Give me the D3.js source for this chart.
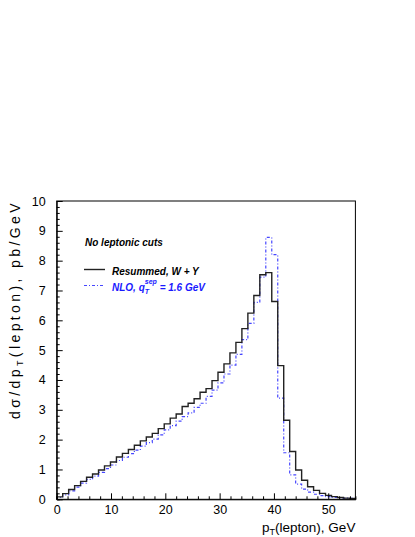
<!DOCTYPE html>
<html>
<head>
<meta charset="utf-8">
<script src="https://cdn.jsdelivr.net/npm/d3@7"></script>
<style>
  body { margin: 0; background: #fff; }
  text { font-family: "Liberation Sans", Arial, sans-serif; }
</style>
</head>
<body>
<div id="chart"></div>
<script>
// bin edges in GeV (50 bins of 1.1 GeV)
const binEdges = [0, 1.1, 2.2, 3.3, 4.4, 5.5, 6.6, 7.7, 8.8, 9.9,
  11, 12.1, 13.2, 14.3, 15.4, 16.5, 17.6, 18.7, 19.8, 20.9,
  22, 23.1, 24.2, 25.3, 26.4, 27.5, 28.6, 29.7, 30.8, 31.9,
  33, 34.1, 35.2, 36.3, 37.4, 38.5, 39.6, 40.7, 41.8, 42.9,
  44, 45.1, 46.2, 47.3, 48.4, 49.5, 50.6, 51.7, 52.8, 53.9, 55];

// Resummed, W + Y
const resummed = [0.08, 0.19, 0.33, 0.46, 0.60, 0.74, 0.85, 0.98, 1.12, 1.25,
  1.42, 1.54, 1.67, 1.81, 1.96, 2.09, 2.21, 2.37, 2.53, 2.72,
  2.86, 3.11, 3.22, 3.37, 3.59, 3.71, 3.98, 4.26, 4.54, 4.91,
  5.26, 5.72, 6.24, 6.83, 7.53, 7.60, 6.63, 4.48, 2.65, 1.60,
  0.98, 0.64, 0.42, 0.30, 0.20, 0.13, 0.09, 0.06, 0.04, 0.03];

// NLO, qT sep = 1.6 GeV
const nlo = [0.06, 0.15, 0.28, 0.41, 0.54, 0.67, 0.78, 0.90, 1.03, 1.15,
  1.30, 1.41, 1.53, 1.65, 1.78, 1.90, 2.02, 2.16, 2.33, 2.47,
  2.62, 2.77, 2.90, 3.08, 3.22, 3.45, 3.66, 3.90, 4.20, 4.50,
  4.86, 5.35, 5.90, 6.60, 7.45, 8.78, 8.20, 3.39, 1.56, 0.82,
  0.51, 0.34, 0.24, 0.17, 0.12, 0.09, 0.06, 0.05, 0.04, 0.03];

const xMajor = [0, 10, 20, 30, 40, 50];
const yMajor = [0, 1, 2, 3, 4, 5, 6, 7, 8, 9, 10];

const W = 415, H = 537;
const svg = d3.select("#chart").append("svg")
    .attr("width", W).attr("height", H);

const x = d3.scaleLinear().domain([0, 55]).range([56.7, 355.4]);
const y = d3.scaleLinear().domain([0, 10]).range([499.3, 201]);

// histogram outline as steps
const steps = vals => {
  const pts = [[0, 0]];
  vals.forEach((v, i) => { pts.push([binEdges[i], v], [binEdges[i + 1], v]); });
  pts.push([55, 0]);
  return pts;
};
const line = d3.line().x(d => x(d[0])).y(d => y(d[1]));

svg.append("path")
    .attr("d", line(steps(nlo)))
    .attr("fill", "none")
    .attr("stroke", "#4646ff")
    .attr("stroke-width", 1.2)
    .attr("stroke-dasharray", "3,2,1,2");

svg.append("path")
    .attr("d", line(steps(resummed)))
    .attr("fill", "none")
    .attr("stroke", "#222")
    .attr("stroke-width", 1.4);

// axes, ticks inside
const xAxis = svg.append("g")
    .attr("transform", `translate(0,${y(0)})`)
    .call(d3.axisTop(x).tickValues(d3.range(0, 56, 2)).tickSize(3).tickFormat(""));
xAxis.selectAll(".tick line").filter(d => d % 10 === 0).attr("y2", -6);
svg.append("g")
    .attr("transform", `translate(0,${y(0)})`)
    .call(d3.axisBottom(x).tickValues(xMajor).tickSize(0).tickPadding(6))
    .call(g => g.select(".domain").remove())
    .selectAll("text").attr("font-size", 12.5).attr("font-family", "Liberation Sans, Arial, sans-serif").attr("fill", "#000");

const yAxis = svg.append("g")
    .attr("transform", `translate(${x(0)},0)`)
    .call(d3.axisRight(y).tickValues(d3.range(0, 10.01, 0.2)).tickSize(3).tickFormat(""));
yAxis.selectAll(".tick line").filter(d => Math.abs(d - Math.round(d)) < 1e-6).attr("x2", 6);
svg.append("g")
    .attr("transform", `translate(${x(0)},0)`)
    .call(d3.axisLeft(y).tickValues(yMajor).tickSize(0).tickPadding(11))
    .call(g => g.select(".domain").remove())
    .selectAll("text").attr("font-size", 12.5).attr("font-family", "Liberation Sans, Arial, sans-serif").attr("fill", "#000");

// frame
svg.append("rect")
    .attr("x", x(0)).attr("y", y(10))
    .attr("width", x(55) - x(0)).attr("height", y(0) - y(10))
    .attr("fill", "none").attr("stroke", "#000").attr("stroke-width", 1);

// axis titles
const xt = svg.append("text")
    .attr("x", x(55)).attr("y", 532)
    .attr("text-anchor", "end").attr("font-size", 13.5);
xt.append("tspan").text("p");
xt.append("tspan").attr("font-size", 9).attr("dy", 3).text("T");
xt.append("tspan").attr("dy", -3).text("(lepton), GeV");

const yt = svg.append("text")
    .attr("transform", `translate(20,${y(10) - 1}) rotate(-90)`)
    .attr("text-anchor", "end").attr("font-size", 14)
    .attr("letter-spacing", 3.4);
yt.append("tspan").text("dσ/dp");
yt.append("tspan").attr("font-size", 9).attr("dy", 3).text("T");
yt.append("tspan").attr("dy", -3).text("(lepton), pb/GeV");

// legend
svg.append("text")
    .attr("x", 85).attr("y", 246)
    .attr("font-size", 10).attr("font-weight", "bold").attr("font-style", "italic")
    .text("No leptonic cuts");

svg.append("line")
    .attr("x1", 84).attr("x2", 105).attr("y1", 269.5).attr("y2", 269.5)
    .attr("stroke", "#222").attr("stroke-width", 1.4);
svg.append("text")
    .attr("x", 112).attr("y", 275)
    .attr("font-size", 10).attr("font-weight", "bold").attr("font-style", "italic")
    .text("Resummed, W + Y");

svg.append("line")
    .attr("x1", 84).attr("x2", 105).attr("y1", 285.5).attr("y2", 285.5)
    .attr("stroke", "#4646ff").attr("stroke-width", 1.2)
    .attr("stroke-dasharray", "3,2,1,2");
const lt = svg.append("text")
    .attr("x", 112).attr("y", 291)
    .attr("font-size", 10).attr("font-weight", "bold").attr("font-style", "italic")
    .attr("fill", "#1a1aff");
lt.append("tspan").text("NLO, q");
lt.append("tspan").attr("font-size", 7).attr("dy", 3).text("T");
lt.append("tspan").attr("font-size", 7).attr("dx", -4).attr("dy", -10).text("sep");
lt.append("tspan").attr("dy", 7).text(" = 1.6 GeV");
</script>
</body>
</html>
